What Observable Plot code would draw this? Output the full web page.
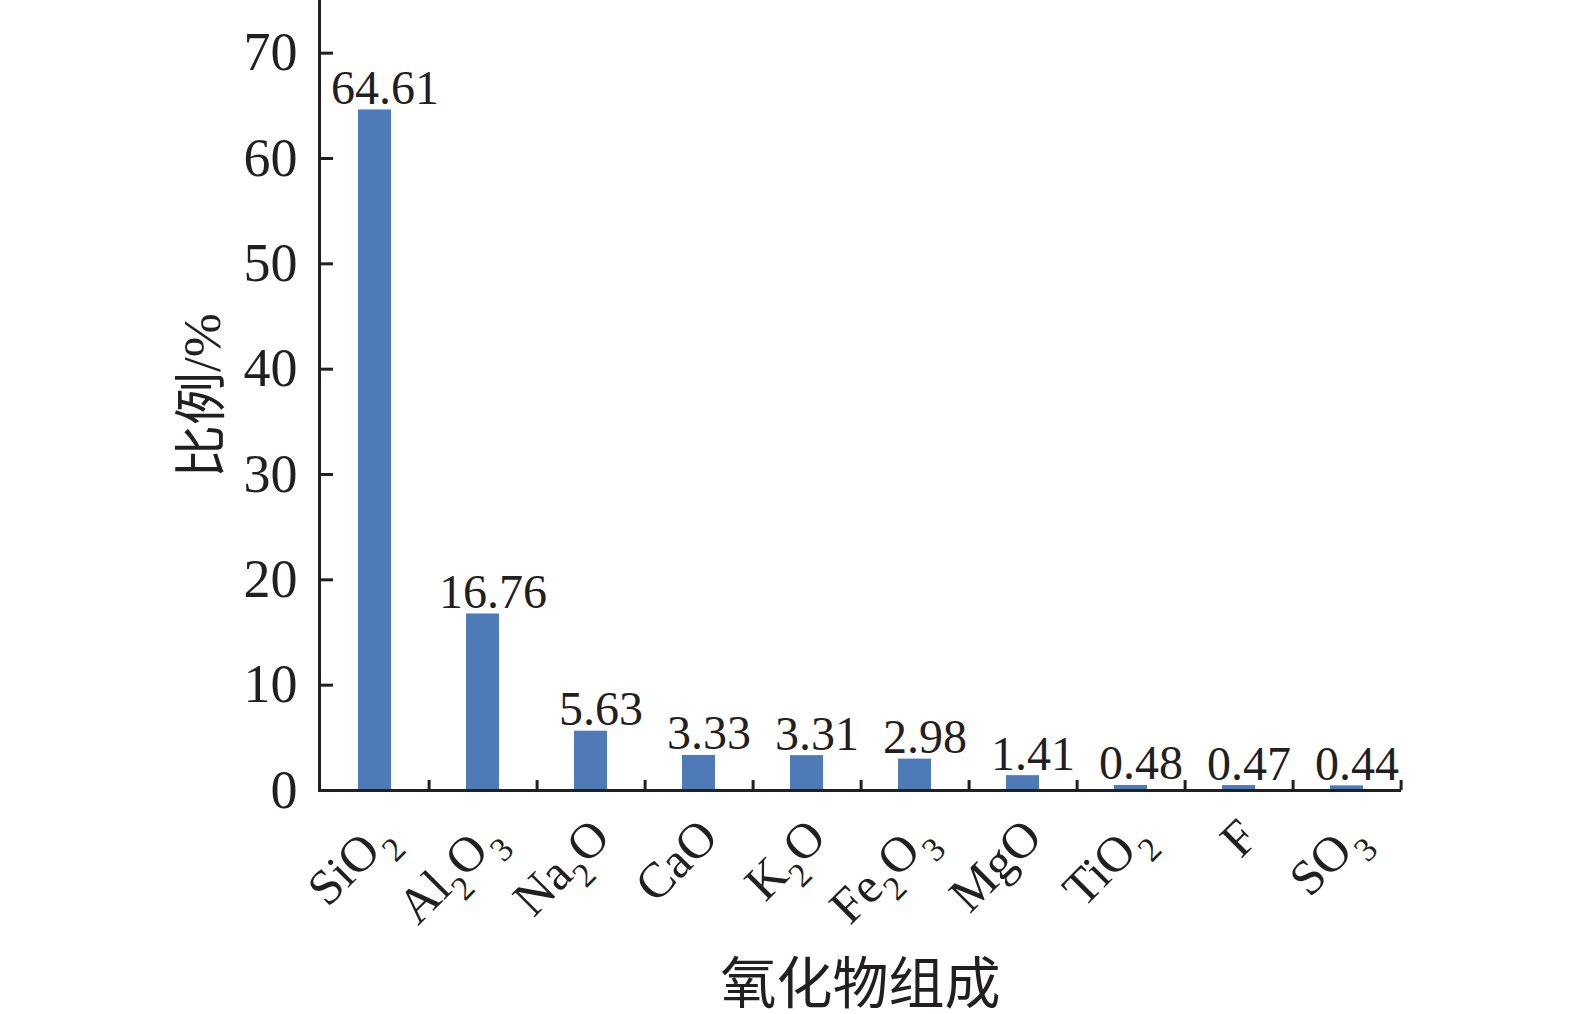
<!DOCTYPE html>
<html>
<head>
<meta charset="utf-8">
<script src="https://cdn.jsdelivr.net/npm/d3@7"></script>
<script src="https://cdn.jsdelivr.net/npm/@observablehq/plot@0.6"></script>
<style>
  html, body { margin: 0; padding: 0; background: #ffffff; overflow: hidden; }
  #chart svg { display: block; max-width: none; }
</style>
</head>
<body>
<div id="chart"></div>
<script>
const categories = ["SiO2", "Al2O3", "Na2O", "CaO", "K2O", "Fe2O3", "MgO", "TiO2", "F", "SO3"];
const values = [64.61, 16.76, 5.63, 3.33, 3.31, 2.98, 1.41, 0.48, 0.47, 0.44];
const yTicks = [0, 10, 20, 30, 40, 50, 60, 70];
const xTitle = "氧化物组成";
const yTitle = "比例/%";

const data = categories.map((c, i) => ({cat: c, value: values[i]}));

const W = 1575, H = 1014;
const mL = 319, mR = 174, mT = 0, mB = 224;
const yMax = 75;
const step = (W - mL - mR) / categories.length;
const tickLenUnits = 10 * yMax / (H - mT - mB);
const ink = "#231f20";
const barColor = "#4f7ab8";

const chart = Plot.plot({
  width: W, height: H,
  marginLeft: mL, marginRight: mR, marginTop: mT, marginBottom: mB,
  style: {fontFamily: "'Liberation Serif','Times New Roman','Noto Sans CJK SC',serif", fontSize: "48px", color: ink, background: "#ffffff"},
  x: {domain: categories, paddingInner: 0.695, paddingOuter: 0.3475, align: 0.5},
  y: {domain: [0, yMax]},
  marks: [
    Plot.barY(data, {x: "cat", y: "value", fill: barColor}),
    Plot.text(data, {x: "cat", y: "value", text: d => d.value.toFixed(2), lineAnchor: "bottom", dy: -6, dx: 10, fontSize: 48, fill: ink}),
    Plot.ruleX(data, {x: "cat", dx: step / 2, y1: 0, y2: tickLenUnits, stroke: ink, strokeWidth: 3}),
    Plot.axisY({ticks: yTicks, tickSize: -14, tickPadding: 36, strokeWidth: 3, stroke: ink, fontSize: 54,
      label: yTitle, labelAnchor: "center", labelOffset: 137, labelArrow: "none"}),
    Plot.axisX({tickSize: 0, tickRotate: -45, tickPadding: 38, dx: 10, fontSize: 50,
      label: xTitle, labelAnchor: "center", labelOffset: 212, labelArrow: "none"}),
    Plot.ruleY([0], {stroke: ink, strokeWidth: 3}),
    Plot.frame({anchor: "left", stroke: ink, strokeWidth: 3})
  ]
});

const svg = d3.select(chart);
// subscripts on oxide labels
svg.selectAll('g[aria-label="x-axis tick label"] text').each(function() {
  const t = d3.select(this);
  const s = t.text();
  const parts = s.match(/[A-Za-z]+|[0-9]+/g) || [s];
  t.text(null);
  let sub = false;
  parts.forEach((p, i) => {
    const isNum = /^[0-9]+$/.test(p);
    const ts = t.append("tspan").text(p);
    if (isNum) {
      ts.attr("font-size", 34).attr("dy", 16).attr("dx", i === parts.length - 1 ? 2 : 0);
      sub = true;
    } else if (sub) {
      ts.attr("dy", -16);
      sub = false;
    }
  });
});
svg.selectAll('g[aria-label="x-axis label"] text').attr("font-size", 56);
svg.selectAll('g[aria-label="y-axis label"] text').attr("font-size", 53);

document.getElementById("chart").appendChild(chart);
</script>
</body>
</html>
